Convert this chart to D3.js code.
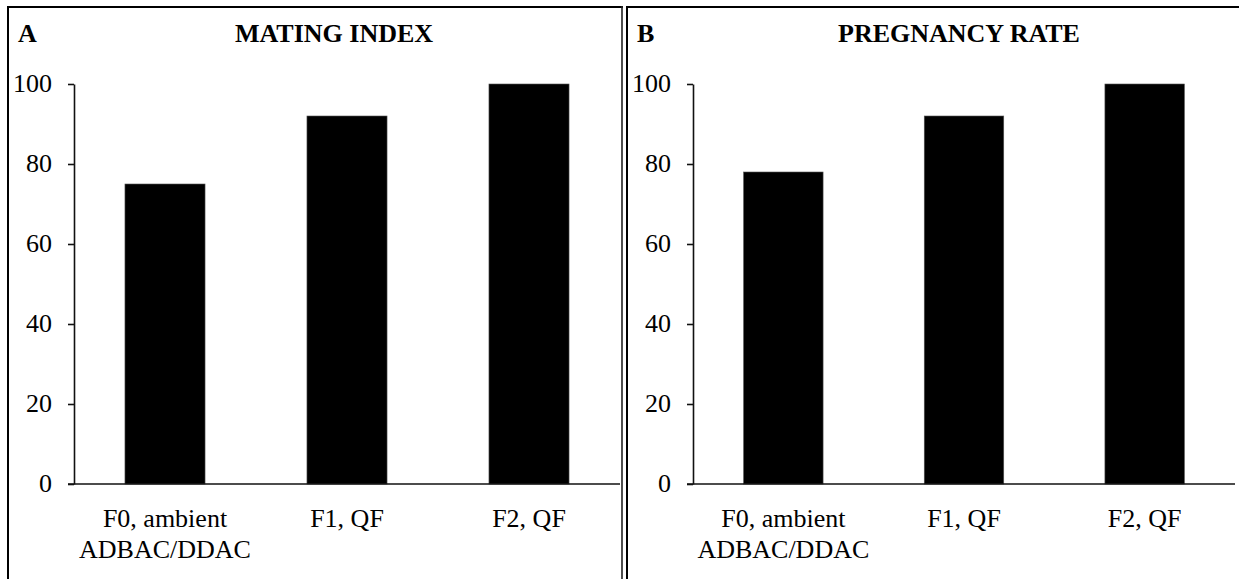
<!DOCTYPE html>
<html>
<head>
<meta charset="utf-8">
<script src="https://cdn.jsdelivr.net/npm/d3@7"></script>
<style>
  body { margin: 0; background: #fff; }
  svg { display: block; }
</style>
</head>
<body>
<svg id="chart" width="1239" height="579"></svg>
<script>
// data
var categories = [["F0, ambient", "ADBAC/DDAC"], ["F1, QF"], ["F2, QF"]];
var matingIndex = [75, 92, 100];
var pregnancyRate = [78, 92, 100];
var yTicks = [0, 20, 40, 60, 80, 100];
var panelLetters = ["A", "B"];
var panelTitles = ["MATING INDEX", "PREGNANCY RATE"];

var svg = d3.select("#chart");
var font = '"Liberation Serif", "Times New Roman", serif';

var panels = [
    {left: 8, right: 622, axisX: 74, axisEnd: 620, titleX: 334, values: matingIndex},
    {left: 627, right: 1239, axisX: 693, axisEnd: 1235, titleX: 959, values: pregnancyRate}
];

var top_y = 84, base_y = 484;

panels.forEach(function (p, k) {
    var g = svg.append("g");

    // panel frame
    g.append("line").attr("x1", p.left - 1).attr("x2", p.right + 1)
        .attr("y1", 7).attr("y2", 7).attr("stroke", "#000").attr("stroke-width", 2);
    g.append("line").attr("x1", p.left).attr("x2", p.left)
        .attr("y1", 6).attr("y2", 579).attr("stroke", "#000").attr("stroke-width", 2);
    if (k === 0) {
        g.append("line").attr("x1", p.right).attr("x2", p.right)
            .attr("y1", 6).attr("y2", 579).attr("stroke", "#222").attr("stroke-width", 1.6);
    }

    // letter + title
    g.append("text").attr("x", p.left + 10).attr("y", 42)
        .style("font-family", font).attr("font-weight", "bold").attr("font-size", 26)
        .text(panelLetters[k]);
    g.append("text").attr("x", p.titleX).attr("y", 42)
        .attr("text-anchor", "middle")
        .style("font-family", font).attr("font-weight", "bold").attr("font-size", 26)
        .text(panelTitles[k]);

    var xScale = d3.scaleBand().domain(d3.range(categories.length))
        .range([p.axisX, p.axisEnd]).paddingInner(0.56).paddingOuter(0.28);
    var yScale = d3.scaleLinear().domain([0, 100]).range([base_y, top_y]);

    // bars
    g.selectAll("rect.bar").data(p.values).enter().append("rect")
        .attr("class", "bar")
        .attr("x", function (d, i) { return xScale(i); })
        .attr("width", xScale.bandwidth())
        .attr("y", function (d) { return yScale(d); })
        .attr("height", function (d) { return yScale(0) - yScale(d); })
        .attr("fill", "#000")
        .attr("stroke", "#555").attr("stroke-width", 0.6);

    // y axis
    var yAxis = d3.axisLeft(yScale).tickValues(yTicks).tickSize(6).tickSizeOuter(0).tickPadding(16);
    var yg = g.append("g").attr("transform", "translate(" + p.axisX + ",0)").call(yAxis);
    yg.attr("font-family", null);
    yg.selectAll("text").style("font-family", font).attr("font-size", 26)
        .attr("fill", "#000").attr("dy", "0.3em");
    yg.selectAll("line, path").attr("stroke", "#111").attr("stroke-width", 1.6);

    // x axis, two-line category labels
    var xAxis = d3.axisBottom(xScale).tickSize(0).tickSizeOuter(0).tickFormat("");
    var xg = g.append("g").attr("transform", "translate(0," + base_y + ")").call(xAxis);
    xg.attr("font-family", null);
    xg.select(".domain").attr("d", "M" + (p.axisX - 6) + ",0H" + p.axisEnd);
    xg.selectAll("line, path").attr("stroke", "#111").attr("stroke-width", 1.6);
    xg.selectAll(".tick text").remove();
    xg.selectAll(".tick").each(function (d) {
        var t = d3.select(this).append("text")
            .attr("fill", "#000").attr("font-size", 26)
            .style("font-family", font).attr("text-anchor", "middle");
        categories[d].forEach(function (line, j) {
            t.append("tspan").attr("x", 0).attr("y", 43 + j * 31).text(line);
        });
    });
});
</script>
</body>
</html>
